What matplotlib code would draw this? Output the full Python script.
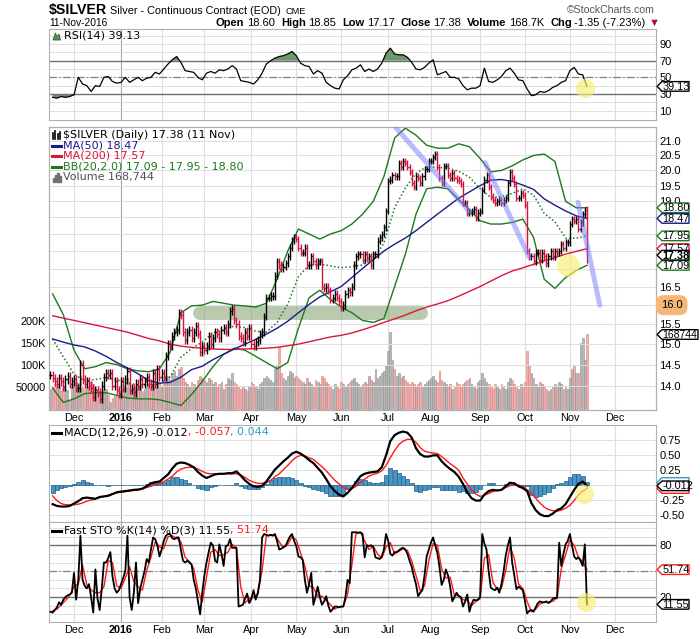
#!/usr/bin/env python3
import numpy as np
import pandas as pd
import matplotlib
matplotlib.use('Agg')
import matplotlib.pyplot as plt
from matplotlib.patches import Polygon
from matplotlib.transforms import IdentityTransform
from matplotlib.ticker import NullLocator

# ---------------------------------------------------------------- data
start_day = '2015-11-13'
holidays = ['2015-11-26', '2015-12-25', '2016-01-01', '2016-01-18',
            '2016-02-15', '2016-03-25', '2016-05-30', '2016-07-04',
            '2016-09-05', '2016-11-24']

quote = {'open': 18.60, 'high': 18.85, 'low': 17.17, 'close': 17.38,
         'volume': 168744, 'chg': -1.35, 'chg_pct': -7.23}
macd_readout = (-0.012, -0.057, 0.044)

# daily closes, Nov 13 2015 .. Nov 11 2016
close = [
    14.25, 14.18, 14.10, 14.05, 14.18, 14.10, 13.98, 14.15, 14.22, 14.05, 14.10,
    14.15, 13.95, 13.95, 14.50, 14.15, 14.05, 14.10, 14.00, 13.95, 13.75,
    13.90, 13.85, 13.70, 14.00, 14.20, 14.30, 14.25, 14.30, 14.00, 14.10, 13.90, 13.82,
    14.10, 13.95, 14.15, 14.35, 13.90, 13.95, 13.85, 14.05, 14.00, 14.15,
    14.05, 14.10, 14.20, 14.05, 14.00, 14.30, 14.05, 14.40, 14.20,
    14.30, 14.20, 14.70, 15.00, 14.95, 15.20, 15.30, 15.35, 15.80, 15.75,
    15.30, 15.10, 15.30, 15.35, 15.15, 15.30, 15.45, 15.25, 14.80, 14.95,
    14.85, 14.95, 15.20, 15.00, 15.15, 15.30, 15.25, 15.15, 15.35, 15.40,
    15.30, 15.50, 15.85, 15.90, 15.60, 15.50, 15.20, 15.15, 15.05, 15.30, 15.20, 15.40,
    15.00, 14.95, 15.05, 15.10, 15.25, 15.30, 15.70, 16.20, 16.20, 16.25,
    16.25, 16.80, 17.20, 17.10, 17.00, 17.05, 17.15, 17.35, 17.60, 17.80, 17.90,
    17.85, 17.60, 17.45, 17.45, 17.60, 17.10, 17.10, 17.35, 17.20, 17.10,
    17.20, 17.20, 16.50, 16.45, 16.50, 16.40, 16.15, 16.20, 16.30, 16.20, 16.10,
    15.95, 16.00, 16.30, 16.40, 16.35, 16.50, 17.10, 17.35, 17.40, 17.40,
    17.25, 17.40, 17.30, 17.35, 17.10, 17.40, 17.40, 17.80, 17.90, 18.00, 18.20, 18.70,
    19.65, 19.70, 19.85, 19.80, 19.80, 20.25, 20.10, 20.30, 20.25, 20.10,
    19.95, 19.60, 19.45, 19.80, 19.75, 19.60, 19.80, 20.05, 20.05, 20.30,
    20.30, 20.45, 20.55, 20.10, 19.75, 19.60, 20.15, 20.15, 19.85, 19.75,
    19.90, 19.75, 19.70, 19.65, 19.55, 18.95, 18.95, 18.65, 18.65, 18.70,
    18.75, 18.50, 18.65,
    18.70, 19.35, 19.70, 19.85, 19.45, 19.15, 19.05, 18.95, 19.00, 19.05,
    18.95, 19.05, 19.10, 19.60, 19.95, 19.75, 19.55, 19.10, 19.10, 19.25, 19.20,
    18.90, 17.50, 17.35, 17.35, 17.20, 17.45, 17.45, 17.25, 17.45, 17.35,
    17.15, 17.35, 17.50, 17.35, 17.50, 17.45, 17.50, 17.70, 17.60, 17.75, 17.75,
    18.30, 18.45, 18.40, 18.45, 18.15, 18.35, 18.60, 18.73, 17.38,
]

# daily volume, thousands of contracts
volume_k = [
    45, 50, 55, 48, 52, 40, 47, 45, 42, 20, 50,
    55, 60, 58, 75, 50, 45, 48, 52, 60, 55, 50, 45, 40, 38, 42, 45, 30, 15, 25, 28, 30, 25,
    40, 45, 50, 70, 60, 45, 42, 48, 50, 52, 40, 45, 48, 50, 42, 55, 50, 60, 55,
    50, 55, 70, 75, 65, 80, 85, 75, 90, 95, 70, 60, 55, 50, 60, 55, 50, 65, 75, 70,
    65, 60, 70, 65, 55, 60, 50, 55, 60, 45, 55, 70, 65, 80, 60, 55, 50, 45, 50, 45, 40, 50,
    60, 55, 50, 45, 55, 60, 70, 75, 70, 65, 60, 90, 100, 140, 80, 70, 65, 75, 85, 80, 70,
    75, 70, 65, 60, 55, 70, 60, 55, 50, 65, 60, 55, 75, 70, 60, 55, 50, 45, 55, 50, 45,
    60, 55, 50, 55, 60, 65, 70, 60, 55, 50, 55, 60, 55, 75, 65, 60, 90, 70, 75, 80, 85, 100,
    130, 175, 110, 90, 75, 80, 70, 75, 65, 60, 55, 60, 55, 50, 55, 60, 50, 55, 60, 65,
    70, 75, 65, 60, 85, 65, 60, 55, 50, 55, 45, 50, 60, 55, 50, 55, 60, 65, 70, 55, 50, 45, 60,
    65, 80, 70, 60, 55, 50, 45, 55, 50, 45, 55, 50, 45, 60, 70, 65, 55, 50, 45, 55, 50,
    60, 130, 100, 80, 70, 55, 50, 60, 55, 50, 45, 40, 45, 50, 55, 50, 60, 55, 45, 50, 45,
    70, 90, 99, 81, 80, 150, 160, 110, 168.744,
]

# moving averages and Bollinger bands, read every 5th session (1, 6, ... 251)
ma50 = [15.13, 15.05, 14.98, 14.93, 14.83, 14.70, 14.55, 14.42, 14.28, 14.12,
        14.06, 14.08, 14.20, 14.38, 14.46, 14.62, 14.75, 14.88, 15.00, 15.12,
        15.25, 15.40, 15.58, 15.80, 16.02, 16.22, 16.36, 16.50, 16.75, 17.00,
        17.25, 17.50, 17.70, 17.88, 18.10, 18.35, 18.60, 18.85, 19.10, 19.30,
        19.50, 19.68, 19.70, 19.64, 19.52, 19.38, 19.08, 18.88, 18.70, 18.55, 18.47]
ma200 = [15.72, 15.66, 15.60, 15.54, 15.48, 15.42, 15.36, 15.30, 15.22, 15.14,
         15.08, 15.00, 14.95, 14.92, 14.90, 14.88, 14.87, 14.87, 14.88, 14.89,
         14.90, 14.92, 14.96, 15.00, 15.06, 15.12, 15.18, 15.22, 15.28, 15.36,
         15.45, 15.55, 15.64, 15.74, 15.85, 15.95, 16.03, 16.12, 16.24, 16.37,
         16.50, 16.65, 16.80, 16.93, 17.02, 17.12, 17.22, 17.31, 17.41, 17.49, 17.57]
bb_upper = [16.30, 15.75, 14.85, 14.40, 14.45, 14.55, 14.50, 14.40, 14.35, 14.33,
            14.40, 14.80, 15.80, 15.98, 16.00, 16.10, 16.05, 16.00, 15.98, 15.95,
            16.05, 16.70, 17.50, 18.15, 18.00, 17.85, 18.00, 18.10, 18.30, 18.60,
            19.00, 19.80, 21.10, 21.45, 21.20, 20.85, 20.75, 20.75, 20.90, 20.80,
            20.40, 19.95, 20.00, 20.15, 20.35, 20.50, 20.55, 20.30, 19.00, 18.80, 18.80]
bb_lower = [13.95, 13.62, 13.70, 13.82, 13.84, 13.84, 13.78, 13.72, 13.70, 13.70,
            13.68, 13.62, 13.55, 13.80, 14.10, 14.45, 14.75, 14.90, 14.85, 14.70,
            14.55, 14.40, 14.55, 15.40, 16.20, 16.40, 16.15, 15.95, 15.80, 15.60,
            15.55, 15.65, 16.50, 17.40, 18.60, 19.40, 19.45, 19.40, 19.05, 18.75,
            18.40, 18.30, 18.30, 18.35, 18.45, 17.90, 16.70, 16.45, 16.75, 16.95, 17.09]

# oscillators, read every 2nd session (1, 3, ... 251)
rsi = [26, 25, 27, 26, 27, 29, 50, 42, 40, 33,
       40, 39, 50, 51, 45, 43, 44, 50, 44, 47,
       50, 46, 49, 50, 56, 54, 60, 66, 71, 75,
       68, 58, 57, 56, 50, 47, 55, 57, 55, 59,
       58, 60, 64, 60, 46, 45, 44, 42, 47, 55,
       66, 70, 73, 75, 76, 78, 81, 76, 67, 64,
       63, 54, 58, 55, 44, 40, 37, 36, 47, 52,
       59, 61, 65, 57, 60, 57, 60, 67, 79, 85,
       78, 77, 77, 74, 68, 60, 59, 62, 67, 71,
       53, 55, 57, 50, 50, 48, 40, 35, 37, 37,
       40, 61, 45, 44, 47, 51, 58, 61, 55, 47,
       46, 36, 28, 29, 33, 32, 34, 38, 40, 44,
       46, 58, 62, 54, 53, 39.13]
macd = [-0.32, -0.35, -0.36, -0.36, -0.35, -0.31, -0.27, -0.22, -0.21, -0.22,
        -0.23, -0.20, -0.19, -0.18, -0.15, -0.12, -0.11, -0.10, -0.09, -0.08,
        -0.075, -0.06, -0.02, 0.03, 0.05, 0.06, 0.12, 0.18, 0.28, 0.36,
        0.38, 0.37, 0.34, 0.30, 0.22, 0.16, 0.12, 0.15, 0.18, 0.19,
        0.19, 0.20, 0.20, 0.23, 0.16, 0.08, 0.02, -0.02, -0.03, -0.01,
        0.06, 0.16, 0.26, 0.33, 0.40, 0.46, 0.53, 0.56, 0.53, 0.48,
        0.42, 0.37, 0.29, 0.21, 0.10, -0.02, -0.10, -0.16, -0.19, -0.13,
        -0.05, 0.05, 0.15, 0.19, 0.21, 0.22, 0.23, 0.30, 0.50, 0.74,
        0.84, 0.88, 0.90, 0.88, 0.80, 0.62, 0.52, 0.48, 0.48, 0.50,
        0.50, 0.40, 0.33, 0.27, 0.22, 0.14, 0.02, -0.12, -0.22, -0.26,
        -0.26, -0.16, -0.10, -0.08, -0.09, -0.08, -0.02, 0.04, 0.03, -0.02,
        -0.05, -0.10, -0.30, -0.42, -0.49, -0.52, -0.52, -0.48, -0.42, -0.39,
        -0.32, -0.20, -0.08, 0.02, 0.06, -0.012]
macd_signal = [-0.18, -0.26, -0.31, -0.33, -0.33, -0.33, -0.32, -0.30, -0.27, -0.25,
               -0.23, -0.21, -0.19, -0.17, -0.15, -0.13, -0.12, -0.11, -0.10, -0.09,
               -0.08, -0.06, -0.04, -0.02, 0.01, 0.03, 0.06, 0.10, 0.15, 0.22,
               0.27, 0.29, 0.30, 0.30, 0.27, 0.23, 0.20, 0.19, 0.19, 0.19,
               0.19, 0.19, 0.19, 0.19, 0.17, 0.13, 0.08, 0.05, 0.03, 0.03,
               0.04, 0.08, 0.14, 0.19, 0.26, 0.33, 0.41, 0.47, 0.50, 0.49,
               0.46, 0.43, 0.37, 0.31, 0.24, 0.16, 0.08, 0.02, -0.04, -0.07,
               -0.06, -0.02, 0.05, 0.10, 0.15, 0.18, 0.20, 0.24, 0.33, 0.46,
               0.58, 0.68, 0.74, 0.77, 0.77, 0.72, 0.63, 0.57, 0.55, 0.54,
               0.53, 0.48, 0.42, 0.36, 0.31, 0.25, 0.12, 0.02, -0.08, -0.15,
               -0.19, -0.17, -0.14, -0.11, -0.09, -0.08, -0.04, -0.01, 0.01, 0.00,
               -0.02, -0.08, -0.14, -0.22, -0.30, -0.37, -0.41, -0.43, -0.44, -0.42,
               -0.39, -0.34, -0.26, -0.17, -0.10, -0.057]
sto_d = [4, 6, 11, 16, 22, 32, 35, 57, 34, 28,
         25, 25, 32, 62, 60, 33, 30, 42, 55, 38,
         32, 28, 51, 66, 84, 78, 76, 90, 91, 88,
         84, 66, 61, 53, 28, 14, 43, 72, 75, 68,
         69, 72, 81, 77, 32, 13, 18, 20, 23, 51,
         91, 92, 92, 84, 77, 81, 90, 86, 71, 56,
         33, 31, 21, 21, 16, 11, 6, 9, 9, 23,
         57, 95, 95, 85, 75, 79, 70, 65, 78, 83,
         70, 73, 76, 74, 62, 45, 27, 33, 62, 82,
         80, 53, 42, 43, 22, 22, 17, 16, 10, 15,
         18, 65, 69, 37, 29, 30, 51, 79, 65, 35,
         30, 15, 3, 6, 12, 14, 14, 15, 19, 53,
         69, 86, 80, 66, 61, 51.74]
# fast %K, daily
sto_k = [
    3, 2, 5, 8, 14, 11, 17, 20, 22, 23,
    25, 48, 17, 40, 91, 40, 33, 30, 35, 20,
    2, 52, 18, 5, 30, 60, 60, 65, 72, 44,
    30, 25, 28, 35, 42, 50, 91, 20, 5, 25,
    60, 13, 30, 40, 50, 64, 60, 75, 89, 87,
    80, 67, 75, 85, 91, 93, 93, 88, 87, 89,
    89, 75, 62, 60, 62, 60, 58, 40, 30, 15,
    0, 25, 45, 60, 72, 83, 80, 62, 60, 81,
    70, 56, 79, 80, 87, 77, 77, 77, 9, 10,
    11, 18, 24, 13, 18, 28, 17, 25, 40, 89,
    93, 92, 91, 92, 91, 93, 85, 75, 76, 78,
    79, 85, 90, 93, 85, 79, 67, 66, 63, 40,
    25, 35, 48, 11, 20, 32, 20, 11, 15, 21,
    10, 3, 6, 9, 9, 8, 9, 9, 20, 40,
    36, 95, 95, 95, 94, 95, 93, 66, 80, 79,
    80, 78, 66, 65, 64, 67, 75, 93, 85, 70,
    68, 72, 72, 74, 76, 77, 75, 70, 62, 55,
    44, 35, 21, 25, 28, 45, 67, 75, 83, 89,
    80, 71, 55, 34, 40, 52, 45, 32, 15, 20,
    25, 21, 20, 9, 15, 23, 3, 12, 17, 16,
    17, 20, 93, 82, 75, 50, 31, 29, 28, 31,
    25, 35, 50, 68, 80, 89, 60, 45, 29, 32,
    30, 28, 15, 1, 4, 5, 3, 8, 13, 15,
    14, 14, 15, 13, 15, 18, 19, 19, 83, 56,
    70, 81, 85, 93, 80, 67, 64, 66, 62, 56,
    81, 11.55,
]

# hand-drawn annotations: (session, price)
trend_lines = [((161.7, 21.46), (196.3, 18.66)),
               ((203.3, 20.26), (223.9, 17.33)),
               ((246.8, 18.97), (257.0, 16.00))]
support_band = ((70.0, 15.79), (173.3, 15.79))
highlight_price = (242.2, 17.10)
highlight_rsi = (250.1, 37.0)
highlight_macd = (249.6, -0.15)
highlight_sto = (250.6, 14.5)
target_price = 16.0

# ---------------------------------------------------------------- layout
W, H = 700, 639
L, R = 49, 656
HDR = 'Liberation Sans'
plt.rcParams['font.family'] = ['Liberation Sans', 'DejaVu Sans']

UP, DOWN = '#000000', '#d8103a'
GRID = '#dedede'
SPINE = '#b0b0b0'
BB, MA50C, MA200C = '#1c7a1c', '#1a1a8e', '#dc143c'

fig = plt.figure(figsize=(W / 100, H / 100), dpi=100)
fig.patch.set_facecolor('white')


def box(x0, y0, x1, y1):
    return fig.add_axes([x0 / W, 1 - y1 / H, (x1 - x0) / W, (y1 - y0) / H])


def rich(x, y, parts, size=8, family='DejaVu Sans'):
    r = fig.canvas.get_renderer()
    for text, color, weight, gap in parts:
        t = fig.text(x / W, 1 - y / H, text, color=color, fontweight=weight,
                     fontsize=size, family=family, ha='left', va='center', zorder=6)
        x += t.get_window_extent(r).width + gap
    return x


def tag(ax, value, label, color, width=33, bold=False, size=7.8):
    _, yp = ax.transData.transform((0, value))
    x0 = ax.transAxes.transform((1, 0))[0]
    h = 4.8
    pts = [(x0 + 1, yp), (x0 + 6, yp + h), (x0 + width, yp + h),
           (x0 + width, yp - h), (x0 + 6, yp - h)]
    fig.add_artist(Polygon(pts, closed=True, transform=IdentityTransform(),
                           fc='white', ec=color, lw=1.0, zorder=5))
    if label:
        fig.text(x0 + 6.5, yp - 0.5, label, transform=IdentityTransform(), ha='left',
                 va='center', fontsize=size, color='black', zorder=5.5,
                 fontweight='bold' if bold else 'normal')
    return yp


def label_ticks(ax, fmt, covered, gap):
    # blank the tick labels that sit right under a value tag
    labs = []
    for v in ax.get_yticks():
        _, yp = ax.transData.transform((0, v))
        labs.append('' if any(abs(yp - t) < gap for t in covered) else fmt % v)
    ax.set_yticklabels(labs)


def main():
    n = len(close)
    assert n == 252 and len(volume_k) == n and len(sto_k) == n
    idx = np.arange(n)
    slow_pos = np.arange(1, n, 5)
    osc_pos = np.arange(1, n, 2)
    assert len(ma50) == len(slow_pos) and len(rsi) == len(osc_pos)

    dates = pd.bdate_range(start_day, '2016-12-30')
    dates = dates[~dates.isin(pd.to_datetime(holidays))]
    month_first = [i for i in range(1, len(dates)) if dates[i].month != dates[i - 1].month]
    month_lbl = ['2016' if dates[i].month == 1 else dates[i].strftime('%b') for i in month_first]

    c = np.array(close)
    o = np.r_[c[0], c[:-1]]
    hi = np.maximum(o, c) + 0.1
    lo = np.minimum(o, c) - 0.1
    o[-1], hi[-1], lo[-1] = quote['open'], quote['high'], quote['low']
    up = c >= np.r_[c[0], c[:-1]]
    cols = np.where(up, UP, DOWN)

    ax_rsi = box(L, 29, R, 120)
    ax_vol = box(L, 127, R, 410)
    ax_px = ax_vol.twinx()
    ax_macd = box(L, 425, R, 522)
    ax_sto = box(L, 522, R, 621.5)
    panels = [ax_rsi, ax_vol, ax_px, ax_macd, ax_sto]

    for ax in panels:
        ax.set_xlim(-0.7, 283.3)
        for s in ax.spines.values():
            s.set_color(SPINE)
            s.set_linewidth(0.8)
        ax.tick_params(length=0, labelsize=8, pad=2.5)
        ax.set_xticks(month_first)
        ax.set_xticklabels([])
    for ax in [ax_rsi, ax_vol, ax_macd, ax_sto]:
        for i, lab in zip(month_first, month_lbl):
            ax.axvline(i, color='#a8a8a8' if lab == '2016' else GRID, lw=0.8, zorder=0)
    for ax in [ax_vol, ax_sto]:
        ax.set_xticklabels(month_lbl, fontsize=7.8)
        for t in ax.get_xticklabels():
            if t.get_text() == '2016':
                t.set_fontweight('bold')

    # --- RSI panel
    r = np.array(rsi)
    ax_rsi.set_ylim(-1.2, 108)
    for v in range(10, 101, 10):
        ax_rsi.axhline(v, color=GRID, lw=0.7, zorder=0)
    ax_rsi.axhline(70, color='#707070', lw=1.0)
    ax_rsi.axhline(30, color='#707070', lw=1.0)
    ax_rsi.axhline(50, color='#808080', lw=0.9, ls=(0, (6, 2, 1, 2)))
    ax_rsi.fill_between(osc_pos, r, 70, where=r >= 70, interpolate=True, color='#6e976c', lw=0)
    ax_rsi.fill_between(osc_pos, r, 30, where=r <= 30, interpolate=True, color='#a8756a', lw=0)
    ax_rsi.plot(osc_pos, r, color='black', lw=0.9)
    ax_rsi.yaxis.tick_right()
    ax_rsi.set_yticks([10, 30, 50, 70, 90])
    ax_rsi.scatter(*highlight_rsi, s=190, color='#f7ef72', alpha=0.65, lw=0, zorder=5)

    # --- price + volume panel
    vol = np.array(volume_k) * 1000
    ax_vol.bar(idx, vol, width=0.8, color=np.where(up, '#b8b8b8', '#f3adad'),
               edgecolor=np.where(up, '#8e8e8e', '#d98080'), lw=0.4, zorder=1)
    ax_vol.set_ylim(-3400, 641700)
    ax_vol.set_yticks([50000, 100000, 150000, 200000])
    ax_vol.set_yticklabels(['50000', '100K', '150K', '200K'], fontsize=7.8)

    ax_px.set_yscale('log')
    ax_px.set_ylim(13.45, 21.49)
    levels = np.arange(14.0, 21.01, 0.5)
    for p in levels:
        ax_px.axhline(p, color=GRID, lw=0.7, zorder=0)
    ax_px.set_yticks(levels)
    ax_px.yaxis.set_minor_locator(NullLocator())
    ax_px.tick_params(axis='y', length=0, pad=2.5, labelsize=8)

    x0, x1 = support_band
    ax_px.plot([x0[0], x1[0]], [x0[1], x1[1]], color='#819e6c', lw=10, alpha=0.55,
               solid_capstyle='round', zorder=1)
    ax_px.plot(slow_pos, bb_upper, color=BB, lw=1.0, zorder=2)
    ax_px.plot(slow_pos, bb_lower, color=BB, lw=1.0, zorder=2)
    ax_px.plot(slow_pos, (np.array(bb_upper) + np.array(bb_lower)) / 2, color=BB,
               lw=1.1, ls=(0, (1, 1.5)), zorder=2)
    ax_px.plot(slow_pos, ma200, color=MA200C, lw=1.0, zorder=2)
    ax_px.plot(slow_pos, ma50, color=MA50C, lw=1.0, zorder=2)
    ax_px.vlines(idx, lo, hi, colors=cols, lw=1.0, zorder=3)
    ax_px.hlines(o, idx - 0.5, idx, colors=cols, lw=1.0, zorder=3)
    ax_px.hlines(c, idx, idx + 0.5, colors=cols, lw=1.0, zorder=3)
    for a, b in trend_lines:
        ax_px.plot([a[0], b[0]], [a[1], b[1]], color='#7878ff', lw=3.6, alpha=0.5,
                   solid_capstyle='round', zorder=4)
    ax_px.scatter(*highlight_price, s=260, color='#f7ef72', alpha=0.65, lw=0, zorder=5)
    ax_px.annotate('%.1f' % target_price, xy=(1, target_price),
                   xycoords=('axes fraction', 'data'), xytext=(3.5, 0),
                   textcoords='offset points', va='center', ha='left', fontsize=8,
                   bbox=dict(boxstyle='round,pad=0.45,rounding_size=0.7', fc='#f6b878', ec='none'),
                   annotation_clip=False, zorder=6)

    # --- MACD panel
    m = np.array(macd)
    s = np.array(macd_signal)
    ax_macd.set_ylim(-0.62, 1.01)
    for v in np.arange(-0.5, 1.0, 0.25):
        ax_macd.axhline(v, color=GRID, lw=0.7, zorder=0)
    ax_macd.bar(osc_pos, m - s, width=1.9, color='#4996c4', edgecolor='#1f5f8a', lw=0.5, zorder=1)
    ax_macd.plot(osc_pos, s, color='#ff1a1a', lw=1.0, zorder=2)
    ax_macd.plot(osc_pos, m, color='black', lw=1.6, zorder=3)
    ax_macd.yaxis.tick_right()
    ax_macd.set_yticks([-0.5, -0.25, 0, 0.25, 0.5, 0.75])
    ax_macd.scatter(*highlight_macd, s=190, color='#f7ef72', alpha=0.65, lw=0, zorder=5)

    # --- Fast stochastics panel
    ax_sto.set_ylim(-8.3, 106.9)
    for v in range(0, 101, 10):
        ax_sto.axhline(v, color=GRID, lw=0.7, zorder=0)
    ax_sto.axhline(80, color='#707070', lw=1.0)
    ax_sto.axhline(20, color='#707070', lw=1.0)
    ax_sto.axhline(50, color='#808080', lw=0.9, ls=(0, (6, 2, 1, 2)))
    ax_sto.plot(osc_pos, sto_d, color='#ff1a1a', lw=1.0, zorder=2)
    ax_sto.plot(idx, sto_k, color='black', lw=1.3, zorder=3)
    ax_sto.yaxis.tick_right()
    ax_sto.set_yticks([20, 50, 80])
    ax_sto.scatter(*highlight_sto, s=190, color='#f7ef72', alpha=0.65, lw=0, zorder=5)

    # --- value tags on the right edge
    up_bb, lo_bb = bb_upper[-1], bb_lower[-1]
    mid_bb = (up_bb + lo_bb) / 2
    tag(ax_rsi, rsi[-1], '%.2f' % rsi[-1], 'black')
    px_tags = [tag(ax_px, up_bb, '%.2f' % up_bb, BB),
               tag(ax_px, ma50[-1], '%.2f' % ma50[-1], MA50C),
               tag(ax_px, mid_bb, '%.2f' % mid_bb, BB),
               tag(ax_px, ma200[-1], '%.2f' % ma200[-1], MA200C),
               tag(ax_px, lo_bb, '%.2f' % lo_bb, BB),
               tag(ax_px, close[-1], '%.2f' % close[-1], 'black', bold=True)]
    tag(ax_vol, quote['volume'], '%d' % quote['volume'], 'black', width=42, size=7.5)
    mac, sig, hist = macd_readout
    macd_tags = [tag(ax_macd, hist, '', '#3399cc'),
                 tag(ax_macd, sig, '', '#ff1a1a'),
                 tag(ax_macd, mac, '%.3f' % mac, 'black')]
    sto_tags = [tag(ax_sto, sto_d[-1], '%.2f' % sto_d[-1], '#ff1a1a'),
                tag(ax_sto, sto_k[-1], '%.2f' % sto_k[-1], 'black')]

    label_ticks(ax_px, '%.1f', px_tags, 6)
    label_ticks(ax_macd, '%.2f', macd_tags, 6)
    label_ticks(ax_sto, '%d', sto_tags, 6)

    # --- header
    x = rich(49, 10, [('$SILVER', 'black', 'bold', 3)], size=10.2, family=HDR)
    x = rich(x, 11, [('Silver - Continuous Contract (EOD)', 'black', 'normal', 5)],
             size=7.8, family=HDR)
    rich(x, 11.5, [('CME', 'black', 'normal', 0)], size=6.6, family=HDR)
    fig.text(655 / W, 1 - 10 / H, '\u00a9StockCharts.com', ha='right', va='center',
             fontsize=7.6, family=HDR, color='#555555')
    rich(49, 23, [('11-Nov-2016', 'black', 'normal', 0)], size=7.4, family=HDR)
    hdr = [('Open', 'black', 'bold', 2.5), ('%.2f' % quote['open'], 'black', 'normal', 6),
           ('High', 'black', 'bold', 2.5), ('%.2f' % quote['high'], 'black', 'normal', 6),
           ('Low', 'black', 'bold', 2.5), ('%.2f' % quote['low'], 'black', 'normal', 6),
           ('Close', 'black', 'bold', 2.5), ('%.2f' % quote['close'], 'black', 'normal', 6),
           ('Volume', 'black', 'bold', 2.5), ('%.1fK' % (quote['volume'] / 1000), 'black', 'normal', 6),
           ('Chg', 'black', 'bold', 2.5),
           ('%.2f (%.2f%%)' % (quote['chg'], quote['chg_pct']), 'black', 'normal', 3),
           ('\u25bc', '#b0103a', 'normal', 0)]
    rich(216, 23, hdr, size=8.05, family=HDR)

    # --- panel legends
    fig.add_artist(Polygon([(53, H - 40), (55.5, H - 33), (57, H - 37), (59, H - 34), (60.5, H - 40)],
                           transform=IdentityTransform(), fc='#5e8f5e', ec='#2f5f2f', lw=0.6))
    rich(64, 36, [('RSI(14) %.2f' % rsi[-1], 'black', 'normal', 0)])

    for k, hgt in enumerate([6, 8, 5, 7]):
        xx = 53 + k * 2.3
        fig.add_artist(plt.Line2D([xx, xx], [H - 139, H - 139 + hgt], transform=IdentityTransform(),
                                  color='black', lw=1.2))
    rich(63, 135, [('$SILVER (Daily) %.2f (11 Nov)' % close[-1], 'black', 'normal', 0)])
    legend_rows = [(145.5, MA50C, 'MA(50) %.2f' % ma50[-1]),
                   (156, MA200C, 'MA(200) %.2f' % ma200[-1]),
                   (166.5, BB, 'BB(20,2.0) %.2f - %.2f - %.2f' % (lo_bb, mid_bb, up_bb))]
    for yy, colr, txt in legend_rows:
        fig.add_artist(plt.Line2D([52, 61], [H - yy, H - yy], transform=IdentityTransform(),
                                  color=colr, lw=2.2))
        rich(63, yy, [(txt, colr, 'normal', 0)])
    for k, hgt in enumerate([4, 7, 9, 6]):
        fig.add_artist(plt.Rectangle((52.5 + k * 2.2, H - 182), 1.6, hgt,
                                     transform=IdentityTransform(), color='#707070'))
    rich(63, 177, [('Volume %s' % format(quote['volume'], ','), '#505050', 'normal', 0)])

    fig.add_artist(plt.Line2D([52, 61], [H - 432.5, H - 432.5], transform=IdentityTransform(),
                              color='black', lw=2.2))
    rich(64, 432.5, [('MACD(12,26,9) %.3f' % mac, 'black', 'normal', 0),
                     (', %.3f' % sig, '#ff1a1a', 'normal', 0),
                     (', %.3f' % hist, '#3399cc', 'normal', 0)])
    fig.add_artist(plt.Line2D([52, 61], [H - 530.5, H - 530.5], transform=IdentityTransform(),
                              color='black', lw=2.2))
    rich(64, 530.5, [('Fast STO %%K(14) %%D(3) %.2f' % sto_k[-1], 'black', 'normal', 0),
                     (', %.2f' % sto_d[-1], '#ff1a1a', 'normal', 0)])

    fig.savefig('out.png', dpi=100, facecolor='white')


if __name__ == '__main__':
    main()
